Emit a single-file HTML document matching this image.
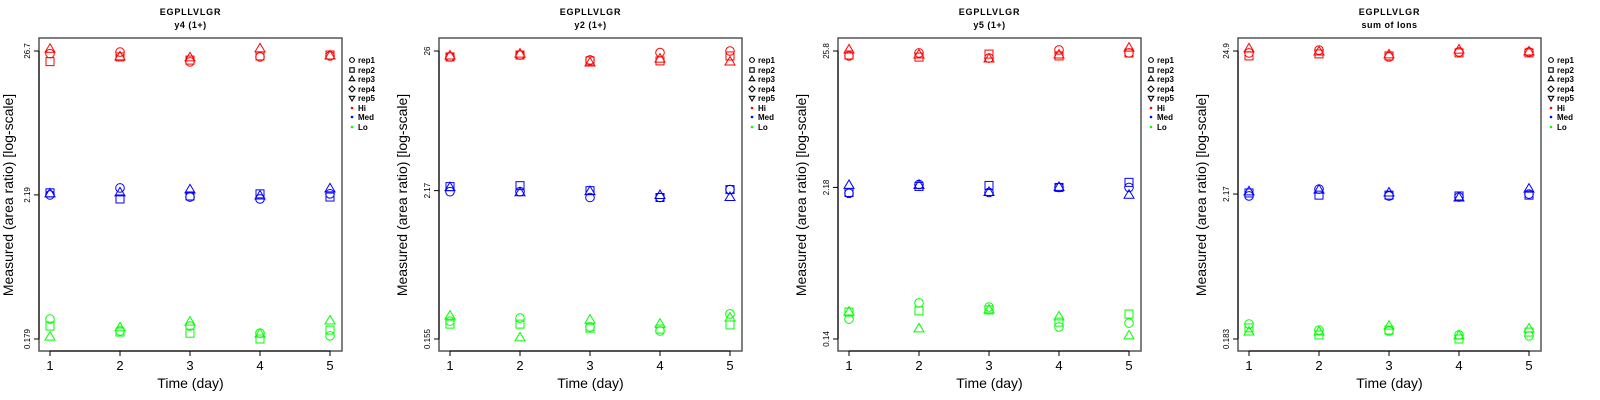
<!DOCTYPE html>
<html><head><meta charset="utf-8"><style>
html,body{margin:0;padding:0;background:#fff;width:1600px;height:400px;overflow:hidden}
svg{display:block;font-family:"Liberation Sans",sans-serif}
</style></head><body>
<svg id="chart" width="1600" height="400" xmlns="http://www.w3.org/2000/svg"></svg>
<script>
const days=[1,2,3,4,5];
const reps=['rep1','rep2','rep3'];
const groups=['Hi','Med','Lo'];
const titles=['y4 (1+)','y2 (1+)','y5 (1+)','sum of Ions'];
const yMin=[0.179,0.155,0.14,0.183];
const yMid=[2.19,2.17,2.18,2.17];
const yMax=[26.7,26,25.8,24.9];
// values[panel][group][rep][day]
const p1Hi=[[25.5,26.2,22.1,24.1,24.5],[22.2,24.1,22.8,24.5,24.9],[27.5,24.1,23.7,27.7,24.5]];
const p1Med=[[2.19,2.47,2.11,2.04,2.23],[2.27,2.04,2.15,2.23,2.11],[2.23,2.27,2.39,2.15,2.43]];
const p1Lo=[[0.253,0.206,0.224,0.198,0.189],[0.224,0.202,0.198,0.179,0.209],[0.185,0.217,0.240,0.195,0.245]];
const p2Hi=[[23.4,24.2,22.2,25.3,26.0],[23.4,24.2,21.8,21.8,23.8],[23.8,24.6,21.0,22.5,21.4]];
const p2Med=[[2.13,2.13,1.92,1.92,2.21],[2.33,2.37,2.17,1.92,2.21],[2.29,2.09,2.13,1.99,1.92]];
const p2Lo=[[0.213,0.225,0.192,0.179,0.242],[0.202,0.202,0.188,0.185,0.199],[0.233,0.158,0.217,0.202,0.225]];
const p3Hi=[[23.6,24.9,22.7,26.3,24.9],[24.0,23.1,24.4,23.6,24.9],[26.3,24.0,22.3,24.0,27.2]];
const p3Med=[[1.96,2.30,1.99,2.18,2.18],[1.99,2.22,2.26,2.18,2.39],[2.26,2.26,1.99,2.18,1.89]];
const p3Lo=[[0.201,0.269,0.250,0.174,0.187],[0.228,0.233,0.237,0.190,0.220],[0.228,0.168,0.237,0.209,0.148]];
const p4Hi=[[24.1,25.3,22.5,24.5,24.5],[22.9,23.7,22.9,24.1,24.1],[25.8,24.5,23.3,25.3,24.5]];
const p4Med=[[2.10,2.36,2.10,2.06,2.17],[2.21,2.13,2.13,2.10,2.13],[2.25,2.32,2.21,2.03,2.36]];
const p4Lo=[[0.236,0.213,0.210,0.196,0.193],[0.221,0.196,0.213,0.183,0.206],[0.206,0.206,0.228,0.193,0.217]];
const values=[[p1Hi,p1Med,p1Lo],[p2Hi,p2Med,p2Lo],[p3Hi,p3Med,p3Lo],[p4Hi,p4Med,p4Lo]];
const colors=['#ff0000','#0000ff','#00ff00'];
const boxLeft=[39,439,838,1238];
const NS='http://www.w3.org/2000/svg';
const svg=document.getElementById('chart');
function mk(tag,attrs,parent){const e=document.createElementNS(NS,tag);for(const k in attrs)e.setAttribute(k,attrs[k]);(parent||svg).appendChild(e);return e;}
function marker(g,shape,x,y,col){
  let e;
  if(shape==='rep1'){e=mk('circle',{cx:x,cy:y,r:4.3,fill:'none',stroke:col,'stroke-width':1},g);}
  else if(shape==='rep2'){e=mk('rect',{x:x-4,y:y-4,width:8,height:8,fill:'none',stroke:col,'stroke-width':1},g);}
  else if(shape==='rep3'){e=mk('polygon',{points:`${x},${y-5.5} ${x+5},${y+3} ${x-5},${y+3}`,fill:'none',stroke:col,'stroke-width':1},g);}
  else if(shape==='rep4'){e=mk('polygon',{points:`${x},${y-5.5} ${x+5.5},${y} ${x},${y+5.5} ${x-5.5},${y}`,fill:'none',stroke:col,'stroke-width':1},g);}
  else {e=mk('polygon',{points:`${x-5},${y-3} ${x+5},${y-3} ${x},${y+5.5}`,fill:'none',stroke:col,'stroke-width':1},g);}
  return e;
}
for(let p=0;p<4;p++){
  const L=boxLeft[p],R=L+303,T=38,B=351;
  const g=mk('g',{});
  
  
  const yTop=51,yBot=339;
  const ys=v=>yBot-(Math.log(v/yMin[p])/Math.log(yMax[p]/yMin[p]))*(yBot-yTop);
  const xs=d=>L+11+(d-1)*70;
  const cx=(L+R)/2;
  const t1=mk('text',{x:cx,y:15,'text-anchor':'middle','font-size':9,'font-weight':'bold','letter-spacing':0.8},g);t1.textContent='EGPLLVLGR';
  
  
  const t2=mk('text',{x:cx,y:28,'text-anchor':'middle','font-size':9,'font-weight':'bold','letter-spacing':0.5},g);t2.textContent=titles[p];
  
  
  const box=mk('rect',{x:L,y:T,width:R-L,height:B-T,fill:'none',stroke:'#555','stroke-width':1.5},g);
  
  
  mk('line',{x1:xs(1),y1:B,x2:xs(5),y2:B,stroke:'#000','stroke-width':1},g);
  days.forEach(d=>{
    mk('line',{x1:xs(d),y1:B,x2:xs(d),y2:B+5,stroke:'#000'},g);
    const tl=mk('text',{x:xs(d),y:370,'text-anchor':'middle','font-size':13},g);tl.textContent=d;
    
    
  });
  const xt=mk('text',{x:cx,y:388,'text-anchor':'middle','font-size':14},g);xt.textContent='Time (day)';
  
  
  const yt=[yMin[p],yMid[p],yMax[p]];
  mk('line',{x1:L,y1:ys(yMin[p]),x2:L,y2:ys(yMax[p]),stroke:'#000'},g);
  yt.forEach(v=>{
    const y=ys(v);
    mk('line',{x1:L-5,y1:y,x2:L,y2:y,stroke:'#000'},g);
    const tl=mk('text',{x:L-9,y:y,'text-anchor':'middle','font-size':8,transform:`rotate(-90 ${L-9} ${y})`},g);tl.textContent=v;
    
    
  });
  const yx=L-(p===0?26:32);
  const ya=mk('text',{x:yx,y:195,'text-anchor':'middle','font-size':14,transform:`rotate(-90 ${yx} 195)`},g);ya.textContent='Measured (area ratio) [log-scale]';
  
  
  for(let gi=0;gi<3;gi++)for(let ri=0;ri<3;ri++)days.forEach((d,di)=>{
    const m=marker(g,reps[ri],xs(d),ys(values[p][gi][ri][di]),colors[gi]);
    
    
  });
  const lg=mk('g',{},g);
  
  
  const lx=R+10;
  const items=['rep1','rep2','rep3','rep4','rep5','Hi','Med','Lo'];
  const ly=[60,70,79,89,98,108,117,127];
  items.forEach((it,i)=>{
    const y=ly[i];
    if(i<5){const m=marker(lg,it,lx,y,'#000');m.setAttribute('transform',`translate(${lx} ${y}) scale(0.55) translate(${-lx} ${-y})`);m.setAttribute('stroke-width',2);}
    else mk('circle',{cx:lx,cy:y,r:1.3,fill:colors[i-5]},lg);
    const tx=mk('text',{x:lx+6,y:y+3,'font-size':8,'font-weight':'bold'},lg);tx.textContent=it;
    
    
  });
}
</script>
</body></html>
